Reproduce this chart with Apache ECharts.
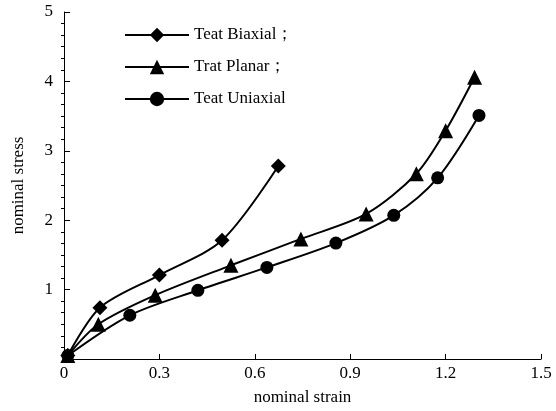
<!DOCTYPE html>
<html>
<head>
<meta charset="utf-8">
<script src="https://cdn.jsdelivr.net/npm/echarts@6/dist/echarts.min.js"></script>
<style>
html,body{margin:0;padding:0;background:#fff;}
#c{width:556px;height:411px;}
</style>
</head>
<body>
<div id="c"></div>
<script>
const seriesNames = ['Teat Biaxial；', 'Trat Planar；', 'Teat Uniaxial'];
const biaxialX = [0.012, 0.113, 0.300, 0.497, 0.674];
const biaxialY = [0.05, 0.74, 1.21, 1.71, 2.78];
const planarX = [0.012, 0.108, 0.287, 0.525, 0.745, 0.950, 1.108, 1.200, 1.291];
const planarY = [0.05, 0.50, 0.92, 1.35, 1.73, 2.09, 2.67, 3.29, 4.06];
const uniaxialX = [0.012, 0.207, 0.421, 0.638, 0.855, 1.037, 1.175, 1.305];
const uniaxialY = [0.05, 0.63, 0.99, 1.32, 1.67, 2.07, 2.61, 3.51];
const xTicks = [0, 0.3, 0.6, 0.9, 1.2, 1.5];
const yTicks = [0, 1, 2, 3, 4, 5];

const font = 'Liberation Serif, Times New Roman, serif';
function pairs(xs, ys){ return xs.map((x,i)=>[x, ys[i]]); }

const chart = echarts.init(document.getElementById('c'));
chart.setOption({
  animation: false,
  backgroundColor: '#fff',
  grid: {left: 64, right: 15, top: 12, bottom: 49},
  legend: {
    orient: 'vertical', left: 119, top: 21,
    itemWidth: 64, itemHeight: 18, itemGap: 14,
    textStyle: {fontFamily: font, fontSize: 17, color: '#000', lineHeight: 18},
    data: seriesNames
  },
  xAxis: {
    type: 'value', min: xTicks[0], max: xTicks[xTicks.length-1], interval: 0.3,
    name: 'nominal strain', nameLocation: 'middle', nameGap: 30,
    nameTextStyle: {fontFamily: font, fontSize: 17, color: '#000'},
    axisLine: {show: true, lineStyle: {color: '#000', width: 1}},
    axisTick: {show: true, inside: true, length: 5, lineStyle: {color: '#000'}},
    axisLabel: {fontFamily: font, fontSize: 17, color: '#000', margin: 6,
      formatter: v => String(Math.round(v*10)/10)},
    splitLine: {show: false}
  },
  yAxis: [{
    type: 'value', min: yTicks[0], max: yTicks[yTicks.length-1], interval: 1,
    name: 'nominal stress', nameLocation: 'middle', nameGap: 37,
    nameTextStyle: {fontFamily: font, fontSize: 17, color: '#000'},
    axisLine: {show: true, lineStyle: {color: '#000', width: 1}},
    axisTick: {show: true, inside: true, length: 6, lineStyle: {color: '#000'}},
    axisLabel: {fontFamily: font, fontSize: 17, color: '#000', margin: 11, showMinLabel: false},
    splitLine: {show: false}
  }, {
    type: 'value', min: yTicks[0], max: yTicks[yTicks.length-1], interval: 1, position: 'left',
    axisLine: {show: false},
    axisTick: {show: false, inside: false},
    minorTick: {show: true, splitNumber: 6, length: 3, lineStyle: {color: '#000', width: 1}},
    axisLabel: {show: false},
    splitLine: {show: false}
  }],
  series: [
    {name: seriesNames[0], type: 'line', smooth: 0.3, data: pairs(biaxialX, biaxialY),
     symbol: 'diamond', symbolSize: 15,
     lineStyle: {color: '#000', width: 2}, itemStyle: {color: '#000'}},
    {name: seriesNames[1], type: 'line', smooth: 0.3, data: pairs(planarX, planarY),
     symbol: 'triangle', symbolSize: 15,
     lineStyle: {color: '#000', width: 2}, itemStyle: {color: '#000'}},
    {name: seriesNames[2], type: 'line', smooth: 0.3, data: pairs(uniaxialX, uniaxialY),
     symbol: 'circle', symbolSize: 13,
     lineStyle: {color: '#000', width: 2}, itemStyle: {color: '#000'}}
  ]
});
</script>
</body>
</html>
